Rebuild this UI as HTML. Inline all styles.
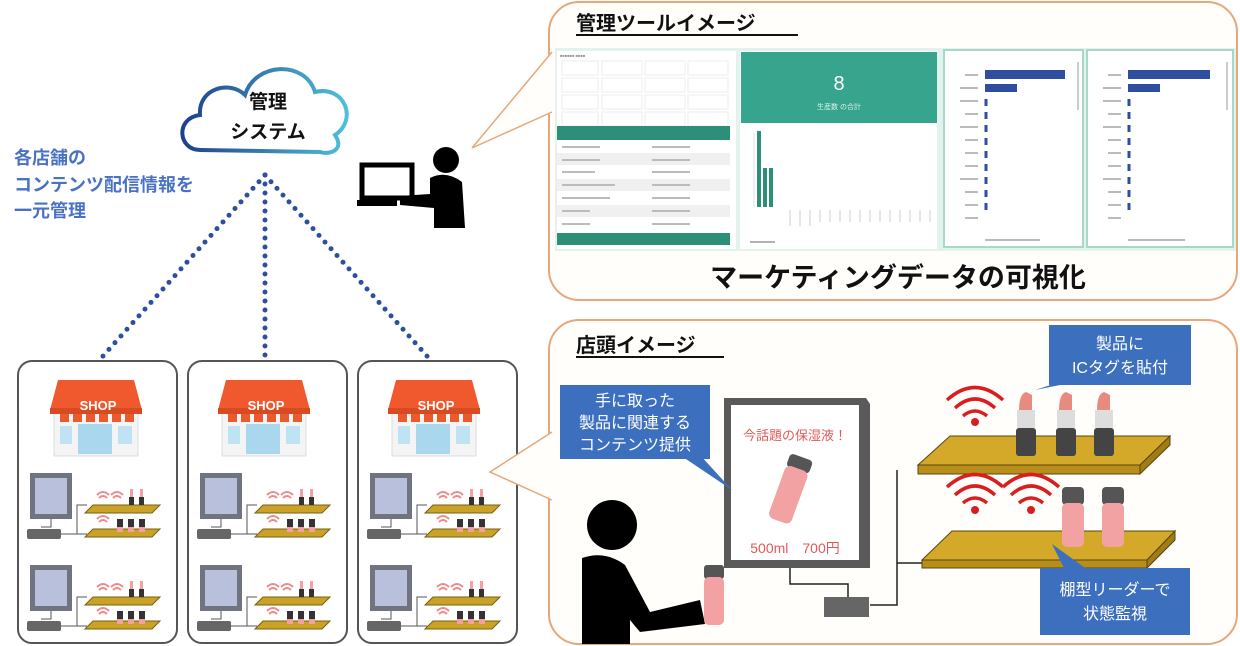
<!DOCTYPE html>
<html><head><meta charset="utf-8"><style>
html,body{margin:0;padding:0;background:#fff;}
svg{display:block;}
text{font-family:"Liberation Sans","Noto Sans CJK JP",sans-serif;}
</style></head><body>
<svg width="1240" height="646" viewBox="0 0 1240 646" xmlns="http://www.w3.org/2000/svg">
<defs>
<linearGradient id="cg" x1="0" x2="1" y1="0" y2="0"><stop offset="0" stop-color="#1f3f8a"/><stop offset="1" stop-color="#4fc0d8"/></linearGradient>
<g id="shopicon">
  <rect x="4" y="30" width="84" height="48" fill="#f4f4f4" stroke="#ddd"/>
  <path d="M0 32 L8 2 L84 2 L92 32 Z" fill="#f0582e"/>
  <rect x="0" y="30" width="92" height="6" fill="#d84a22"/>
  <g fill="#e95a2c"><rect x="10" y="36" width="9" height="8"/><rect x="23" y="36" width="9" height="8"/><rect x="36" y="36" width="9" height="8"/><rect x="49" y="36" width="9" height="8"/><rect x="62" y="36" width="9" height="8"/><rect x="75" y="36" width="9" height="8"/></g>
  <rect x="10" y="48" width="12" height="18" fill="#bfe3f2"/><rect x="28" y="46" width="34" height="30" fill="#a9d8ee"/><rect x="68" y="48" width="14" height="18" fill="#bfe3f2"/>
</g>
<g id="unit">
  <rect x="15" y="0" width="42" height="46" fill="#6f7480"/><rect x="20" y="5" width="32" height="36" fill="#b9c0dc"/>
  <path d="M36 46 V54 H26" stroke="#555" fill="none"/>
  <rect x="12" y="56" width="34" height="10" rx="2" fill="#666"/>
  <path d="M46 61 H62 V32 H72 M62 61 H72" stroke="#555" fill="none"/>
  <path d="M70 40 L78 32 H145 L137 40 Z" fill="#c9a227" stroke="#7a6010"/>
  <path d="M70 64 L78 56 H145 L137 64 Z" fill="#c9a227" stroke="#7a6010"/>
  <g fill="none" stroke="#f08a8a" stroke-width="2"><path d="M82 22 Q88 16 94 22 M84 25 Q88 21 92 25"/><path d="M96 22 Q102 16 108 22 M98 25 Q102 21 106 25"/><path d="M82 46 Q88 40 94 46 M84 49 Q88 45 92 49"/></g>
  <g fill="#333"><rect x="114" y="24" width="5" height="8"/><rect x="124" y="24" width="5" height="8"/><rect x="102" y="46" width="6" height="8"/><rect x="113" y="46" width="6" height="8"/><rect x="124" y="46" width="6" height="8"/></g>
  <g fill="#f2a0a0"><rect x="115" y="16" width="3" height="8"/><rect x="125" y="16" width="3" height="8"/><rect x="102" y="54" width="6" height="5"/><rect x="113" y="54" width="6" height="5"/><rect x="124" y="54" width="6" height="5"/></g>
</g>
</defs>

<!-- top callout box -->
<rect x="549" y="2" width="688" height="298" rx="30" fill="#fffefb" stroke="#e6a77a" stroke-width="2"/>
<path d="M552 52 L472 148 L552 112" fill="#fffefb" stroke="#e6a77a" stroke-width="1.5"/>
<rect x="553" y="53" width="3" height="58" fill="#fffefb"/>
<text x="576" y="30" font-size="20" font-weight="bold" fill="#111">管理ツールイメージ</text>
<line x1="576" y1="35" x2="798" y2="35" stroke="#111" stroke-width="2"/>

<!-- dashboard -->
<rect x="555" y="48" width="681" height="203" fill="#e2f3ee"/>
<rect x="557" y="51" width="179" height="198" fill="#fff"/>
<g font-size="4" fill="#999">
<text x="560" y="57">■■■■■■ ■■■■</text>
</g>
<g stroke="#eee" fill="#fff">
<rect x="562" y="61" width="36" height="14"/><rect x="602" y="61" width="40" height="14"/><rect x="645" y="61" width="40" height="14"/><rect x="688" y="61" width="40" height="14"/>
<rect x="562" y="78" width="36" height="14"/><rect x="602" y="78" width="40" height="14"/><rect x="645" y="78" width="40" height="14"/><rect x="688" y="78" width="40" height="14"/>
<rect x="562" y="95" width="36" height="14"/><rect x="602" y="95" width="40" height="14"/><rect x="645" y="95" width="40" height="14"/><rect x="688" y="95" width="40" height="14"/>
<rect x="562" y="112" width="36" height="14"/><rect x="602" y="112" width="40" height="14"/><rect x="645" y="112" width="40" height="14"/><rect x="688" y="112" width="40" height="14"/>
</g>
<rect x="557" y="126" width="173" height="14" fill="#2e8f78"/>
<g fill="#f0f0f0"><rect x="557" y="153" width="173" height="12"/><rect x="557" y="179" width="173" height="12"/><rect x="557" y="205" width="173" height="12"/></g>
<g stroke="#bbb" stroke-width="2"><line x1="562" y1="147" x2="600" y2="147"/><line x1="652" y1="147" x2="690" y2="147"/><line x1="562" y1="160" x2="600" y2="160"/><line x1="652" y1="160" x2="690" y2="160"/><line x1="562" y1="172" x2="595" y2="172"/><line x1="652" y1="172" x2="690" y2="172"/><line x1="562" y1="185" x2="615" y2="185"/><line x1="652" y1="185" x2="690" y2="185"/><line x1="562" y1="198" x2="610" y2="198"/><line x1="652" y1="198" x2="690" y2="198"/><line x1="562" y1="211" x2="590" y2="211"/><line x1="652" y1="211" x2="690" y2="211"/><line x1="562" y1="224" x2="590" y2="224"/><line x1="652" y1="224" x2="690" y2="224"/></g>
<rect x="557" y="233" width="173" height="12" fill="#2e8f78"/>
<rect x="740" y="51" width="197" height="198" fill="#fff"/>
<rect x="741" y="52" width="196" height="71" fill="#37a58d"/>
<text x="839" y="90" font-size="20" fill="#fff" text-anchor="middle">8</text>
<text x="839" y="109" font-size="7" fill="#d8f2ea" text-anchor="middle">生産数 の合計</text>
<line x1="754" y1="133" x2="754" y2="207" stroke="#ddd"/>
<rect x="757" y="131" width="4" height="76" fill="#2e8f78"/><rect x="763" y="168" width="4" height="39" fill="#2e8f78"/><rect x="769" y="168" width="4" height="39" fill="#2e8f78"/>
<g stroke="#ccc" stroke-width="1"><line x1="790" y1="210" x2="790" y2="226"/><line x1="800" y1="210" x2="800" y2="226"/><line x1="810" y1="210" x2="810" y2="226"/><line x1="820" y1="210" x2="820" y2="222"/><line x1="830" y1="210" x2="830" y2="222"/><line x1="840" y1="210" x2="840" y2="222"/><line x1="850" y1="210" x2="850" y2="222"/><line x1="860" y1="210" x2="860" y2="222"/><line x1="870" y1="210" x2="870" y2="222"/><line x1="880" y1="210" x2="880" y2="222"/><line x1="890" y1="210" x2="890" y2="222"/><line x1="900" y1="210" x2="900" y2="222"/><line x1="910" y1="210" x2="910" y2="222"/><line x1="920" y1="210" x2="920" y2="222"/><line x1="930" y1="210" x2="930" y2="222"/></g>
<line x1="750" y1="242" x2="775" y2="242" stroke="#999" stroke-width="1.5"/>
<rect x="944" y="50" width="139" height="197" fill="#fff" stroke="#a7d8c8" stroke-width="2"/>
<rect x="1087" y="50" width="146" height="197" fill="#fff" stroke="#a7d8c8" stroke-width="2"/>
<g fill="#2f4ea0">
<rect x="985" y="70" width="80" height="9"/><rect x="985" y="84" width="32" height="8"/>
<rect x="1128" y="70" width="82" height="9"/><rect x="1128" y="84" width="32" height="8"/>
</g>
<g stroke="#2f4ea0" stroke-width="3">
<line x1="986" y1="99" x2="986" y2="215" stroke-dasharray="7 6"/>
<line x1="1129" y1="99" x2="1129" y2="215" stroke-dasharray="7 6"/>
</g>
<g stroke="#bbb" stroke-width="2">
<line x1="965" y1="75" x2="978" y2="75"/><line x1="960" y1="88" x2="978" y2="88"/><line x1="960" y1="101" x2="978" y2="101"/><line x1="965" y1="114" x2="978" y2="114"/><line x1="960" y1="127" x2="978" y2="127"/><line x1="965" y1="140" x2="978" y2="140"/><line x1="965" y1="153" x2="978" y2="153"/><line x1="965" y1="166" x2="978" y2="166"/><line x1="960" y1="179" x2="978" y2="179"/><line x1="965" y1="192" x2="978" y2="192"/><line x1="965" y1="205" x2="978" y2="205"/><line x1="965" y1="218" x2="978" y2="218"/><line x1="985" y1="240" x2="1040" y2="240"/>
<line x1="1108" y1="75" x2="1121" y2="75"/><line x1="1103" y1="88" x2="1121" y2="88"/><line x1="1103" y1="101" x2="1121" y2="101"/><line x1="1108" y1="114" x2="1121" y2="114"/><line x1="1103" y1="127" x2="1121" y2="127"/><line x1="1108" y1="140" x2="1121" y2="140"/><line x1="1108" y1="153" x2="1121" y2="153"/><line x1="1108" y1="166" x2="1121" y2="166"/><line x1="1103" y1="179" x2="1121" y2="179"/><line x1="1108" y1="192" x2="1121" y2="192"/><line x1="1108" y1="205" x2="1121" y2="205"/><line x1="1108" y1="218" x2="1121" y2="218"/><line x1="1128" y1="240" x2="1185" y2="240"/>
</g>
<line x1="1078" y1="62" x2="1078" y2="110" stroke="#ccc" stroke-width="2"/>
<line x1="1227" y1="62" x2="1227" y2="110" stroke="#ccc" stroke-width="2"/>
<text x="898" y="287" font-size="27" font-weight="bold" fill="#111" text-anchor="middle">マーケティングデータの可視化</text>

<!-- cloud -->
<path d="M200 150 C178 150 175 118 200 115 C198 88 230 80 245 95 C255 62 305 60 315 92 C345 85 358 120 335 135 C345 150 330 155 320 152 Z" fill="#fff" stroke="url(#cg)" stroke-width="4"/>
<text x="268" y="108" font-size="19" font-weight="bold" fill="#111" text-anchor="middle">管理</text>
<text x="268" y="138" font-size="19" font-weight="bold" fill="#111" text-anchor="middle">システム</text>
<g font-size="18" font-weight="bold" fill="#4a72c4">
<text x="14" y="164">各店舗の</text><text x="14" y="191">コンテンツ配信情報を</text><text x="14" y="217">一元管理</text>
</g>
<g stroke="#2e4fa0" stroke-width="5" stroke-linecap="round" stroke-dasharray="0 9" fill="none">
<line x1="265" y1="175" x2="95" y2="365"/><line x1="265" y1="175" x2="265" y2="360"/><line x1="265" y1="175" x2="435" y2="365"/>
</g>
<!-- person with laptop -->
<rect x="362" y="165" width="50" height="33" fill="none" stroke="#000" stroke-width="5"/>
<rect x="357" y="200" width="40" height="6" fill="#000"/>
<circle cx="446" cy="160" r="13" fill="#000"/>
<path d="M430 178 Q446 170 462 182 L465 228 L434 228 L434 208 L400 205 L400 196 L430 194 Z" fill="#000"/>

<!-- stores -->
<rect x="18" y="361" width="159" height="282" rx="14" fill="#fff" stroke="#555" stroke-width="2"/>
<rect x="188" y="361" width="159" height="282" rx="14" fill="#fff" stroke="#555" stroke-width="2"/>
<rect x="358" y="361" width="159" height="282" rx="14" fill="#fff" stroke="#555" stroke-width="2"/>
<use href="#shopicon" x="50" y="378"/><use href="#shopicon" x="218" y="378"/><use href="#shopicon" x="388" y="378"/>
<g font-size="13" font-weight="bold" fill="#fff" text-anchor="middle">
<text x="98" y="410">SHOP</text><text x="266" y="410">SHOP</text><text x="436" y="410">SHOP</text>
</g>
<use href="#unit" x="15" y="473"/><use href="#unit" x="15" y="565"/>
<use href="#unit" x="185" y="473"/><use href="#unit" x="185" y="565"/>
<use href="#unit" x="355" y="473"/><use href="#unit" x="355" y="565"/>

<!-- bottom callout box -->
<rect x="549" y="320" width="688" height="324" rx="30" fill="#fffefb" stroke="#e6a77a" stroke-width="2"/>
<path d="M552 432 L490 472 L552 500" fill="#fffefb" stroke="#e6a77a" stroke-width="1.5"/>
<rect x="553" y="433" width="3" height="66" fill="#fffefb"/>
<text x="576" y="352" font-size="20" font-weight="bold" fill="#111">店頭イメージ</text>
<line x1="576" y1="357" x2="724" y2="357" stroke="#111" stroke-width="2"/>

<!-- signage -->
<path d="M790 565 V584 H848 V598" stroke="#222" fill="none" stroke-width="1.5"/>
<rect x="824" y="597" width="45" height="20" fill="#666"/>
<path d="M724 398 L866 398 L870 404 L870 568 L724 568 Z" fill="#5a5a5a"/>
<rect x="731" y="405" width="128" height="155" fill="#fff"/>
<text x="795" y="440" font-size="13" fill="#e35858" text-anchor="middle">今話題の保湿液！</text>
<g transform="rotate(20 790 490)"><rect x="778" y="455" width="24" height="14" rx="4" fill="#555"/><rect x="778" y="467" width="24" height="56" rx="6" fill="#f2a2a2"/></g>
<text x="795" y="553" font-size="14" fill="#e35858" text-anchor="middle">500ml　700円</text>
<!-- blue callout 1 -->
<path d="M680 455 L732 490 L700 455 Z" fill="#3d6fbf"/>
<rect x="560" y="385" width="150" height="74" fill="#3d6fbf"/>
<g font-size="16" fill="#fff" text-anchor="middle"><text x="635" y="406">手に取った</text><text x="635" y="428">製品に関連する</text><text x="635" y="450">コンテンツ提供</text></g>
<!-- person -->
<circle cx="612" cy="525" r="25" fill="#000"/>
<path d="M582 558 Q605 550 625 565 L650 612 L700 600 L705 624 L640 632 L630 620 L630 644 L582 644 Z" fill="#000"/>
<rect x="704" y="565" width="20" height="14" rx="3" fill="#555"/><rect x="704" y="577" width="20" height="48" rx="5" fill="#f2a2a2"/>

<!-- shelves -->
<path d="M897 470 V605 H870 M897 563 H922" stroke="#222" fill="none" stroke-width="1.5"/>
<path d="M918 465 L950 436 L1170 436 L1140 465 Z" fill="#d4a92a" stroke="#5a4510"/>
<path d="M918 465 L1140 465 L1140 474 L918 474 Z" fill="#b88e1a" stroke="#5a4510"/>
<path d="M1140 465 L1170 436 L1170 445 L1140 474 Z" fill="#a07c15" stroke="#5a4510"/>
<path d="M922 560 L952 531 L1175 531 L1147 560 Z" fill="#d4a92a" stroke="#5a4510"/>
<path d="M922 560 L1147 560 L1147 568 L922 568 Z" fill="#b88e1a" stroke="#5a4510"/>
<path d="M1147 560 L1175 531 L1175 540 L1147 568 Z" fill="#a07c15" stroke="#5a4510"/>
<g>
<path d="M1019 410 Q1019 394 1026 392 L1032 395 L1032 410 Z" fill="#e78a80"/><rect x="1017" y="410" width="18" height="18" fill="#ddd"/><rect x="1016" y="428" width="20" height="28" rx="3" fill="#444"/>
<path d="M1059 410 Q1059 394 1066 392 L1072 395 L1072 410 Z" fill="#e78a80"/><rect x="1057" y="410" width="18" height="18" fill="#ddd"/><rect x="1056" y="428" width="20" height="28" rx="3" fill="#444"/>
<path d="M1097 410 Q1097 394 1104 392 L1110 395 L1110 410 Z" fill="#e78a80"/><rect x="1095" y="410" width="18" height="18" fill="#ddd"/><rect x="1094" y="428" width="20" height="28" rx="3" fill="#444"/>
</g>
<g>
<rect x="1062" y="487" width="22" height="18" rx="4" fill="#555"/><rect x="1062" y="503" width="22" height="44" rx="5" fill="#f2a2a2"/>
<rect x="1102" y="487" width="22" height="18" rx="4" fill="#555"/><rect x="1102" y="503" width="22" height="44" rx="5" fill="#f2a2a2"/>
</g>
<g fill="none" stroke="#d81e1e" stroke-width="3.5">
<path d="M947 400 Q975 375 1003 400 M955 408 Q975 390 995 408 M963 416 Q975 406 987 416"/>
<path d="M947 487 Q975 462 1003 487 M955 495 Q975 477 995 495 M963 503 Q975 493 987 503"/>
<path d="M1003 487 Q1031 462 1059 487 M1011 495 Q1031 477 1051 495 M1019 503 Q1031 493 1043 503"/>
</g>
<g fill="#d81e1e"><circle cx="975" cy="422" r="4"/><circle cx="975" cy="510" r="4"/><circle cx="1031" cy="510" r="4"/></g>
<!-- callouts right -->
<path d="M1060 382 L1035 390 L1075 382 Z" fill="#3d6fbf"/>
<rect x="1049" y="325" width="142" height="60" fill="#3d6fbf"/>
<g font-size="16" fill="#fff" text-anchor="middle"><text x="1120" y="349">製品に</text><text x="1120" y="373">ICタグを貼付</text></g>
<path d="M1065 570 L1052 544 L1088 570 Z" fill="#3d6fbf"/>
<rect x="1040" y="568" width="150" height="67" fill="#3d6fbf"/>
<g font-size="16" fill="#fff" text-anchor="middle"><text x="1115" y="595">棚型リーダーで</text><text x="1115" y="619">状態監視</text></g>
</svg>
</body></html>
